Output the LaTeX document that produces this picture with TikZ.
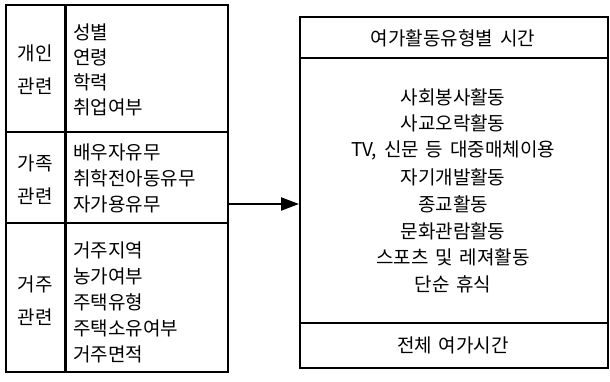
\documentclass[tikz,border=0pt]{standalone}
\usepackage{fontspec}
\newfontfamily\kr[WordSpace = 1.6]{Noto Sans CJK KR}
\usetikzlibrary{arrows.meta}
\tikzset{box/.style = {draw, line width = 2pt, inner sep = 0, anchor = north west},
  item/.style = {anchor = west, inner sep = 0, font = \kr\fontsize{19}{22}\selectfont},
  mid/.style = {inner sep = 0, font = \kr\fontsize{19}{22}\selectfont},
  grp/.style = {inner sep = 0, align = center, font = \kr\fontsize{19}{33}\selectfont},
  arr/.style = {line width = 2.2pt, -{Triangle[length = 18pt, width = 13pt]}}}

\begin{document}
\begin{tikzpicture}[x = 1pt, y = -1pt]
    \useasboundingbox (0, 0) rectangle (610, 381);

    % left side
    \node [box, minimum width = 222, minimum height = 367] (left) at (5, 4) {};
    \draw [line width = 3pt] (65, 4) -- (65, 371);
    \draw [line width = 2pt] (5, 132) -- (227, 132);
    \draw [line width = 2pt] (5, 223) -- (227, 223);

    \node [grp] (personal) at (35, 70) {개인\\관련};
    \node [grp] (family) at (35, 180) {가족\\관련};
    \node [grp] (housing) at (35, 301) {거주\\관련};

    \foreach \t [count = \i from 0] in {성별, 연령, 학력, 취업여부}
      \node [item] (p\i) at (73, 32 + 25 * \i) {\t};
    \foreach \t [count = \i from 0] in {배우자유무, 취학전아동유무, 자가용유무}
      \node [item] (f\i) at (73, 152 + 26 * \i) {\t};
    \foreach \t [count = \i from 0] in {거주지역, 농가여부, 주택유형, 주택소유여부, 거주면적}
      \node [item] (h\i) at (73, 250 + 26 * \i) {\t};

    % right side
    \node [box, minimum width = 308, minimum height = 351] (right) at (299, 16) {};
    \draw [line width = 2.4pt] (299, 58) -- (607, 58);
    \draw [line width = 2.4pt] (299, 323) -- (607, 323);

    \node [mid] (head) at (453, 38) {여가활동유형별 시간};
    \foreach \t [count = \i from 0] in {사회봉사활동, 사교오락활동, {TV, 신문 등 대중매체이용}, 자기개발활동,
        종교활동, 문화관람활동, 스포츠 및 레져활동, 단순 휴식}
      \node [mid] (a\i) at (453, 97 + 26.8 * \i) {\t};
    \node [mid] (total) at (453, 345) {전체 여가시간};

    \draw [arr] (left.east |- f2.center) -- (right.west |- f2.center);
  \end{tikzpicture}
\end{document}
